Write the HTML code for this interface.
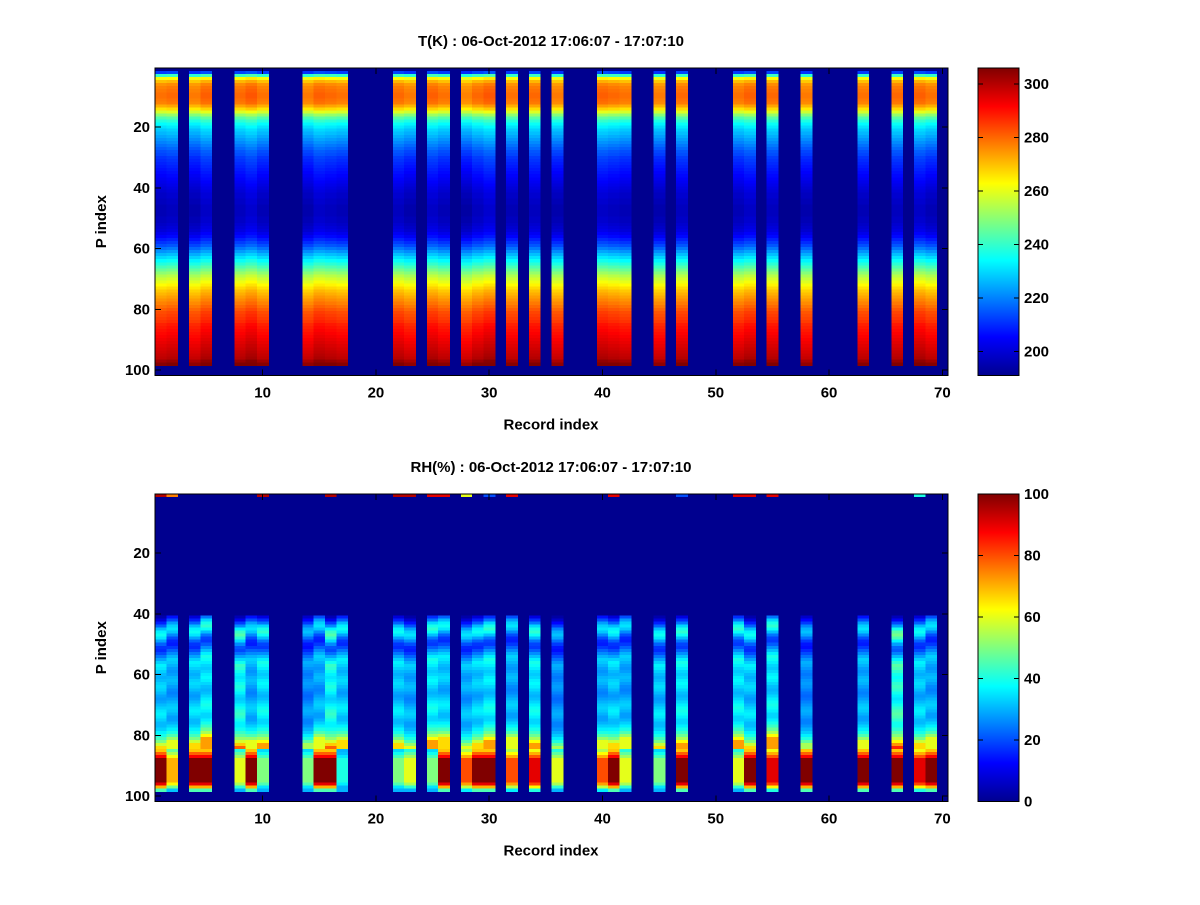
<!DOCTYPE html>
<html><head><meta charset="utf-8"><style>
body{margin:0;background:#fff}
svg text{font-family:"Liberation Sans",Arial,sans-serif;font-weight:bold;font-size:15px;fill:#000}
</style></head><body>
<svg id="fig" width="1200" height="900" viewBox="0 0 1200 900" shape-rendering="crispEdges">
<rect width="1200" height="900" fill="#fff"/>
<defs>
<linearGradient id="jetg" x1="0" y1="1" x2="0" y2="0">
<stop offset="0" stop-color="#00008f"/><stop offset="0.125" stop-color="#0000ff"/><stop offset="0.375" stop-color="#00ffff"/><stop offset="0.625" stop-color="#ffff00"/><stop offset="0.875" stop-color="#ff0000"/><stop offset="1" stop-color="#800000"/>
</linearGradient>
</defs>
<g id="p1"></g>
<g id="p2"></g>
</svg>
<script>
const records=[1,2,4,5,8,9,10,14,15,16,17,22,23,25,26,28,29,30,32,34,36,40,41,42,45,47,52,53,55,58,63,66,68,69];
const tOffset=[0,1,-1,2,1,3,0,-1,2,1,0,1,-1,2,0,-2,1,3,0,1,-1,2,1,0,-1,1,0,2,1,-1,0,1,2,0];
const tProfile=[null,212,240,262,270,275,277,278,279,279,278,277,272,266,258,250,243,238,234,231,
228,226,224,222,220,218,216,214,213,211,210,209,208,207,206,205,204,203,202,201,
200,199,199,198,198,197,197,197,197,198,198,199,200,201,203,205,208,211,214,218,
222,226,230,234,238,242,246,250,254,257,260,263,266,269,271,273,275,277,279,281,
283,284,285,286,288,289,290,291,292,293,294,295,296,297,298,299,302,305,null,null,null];
const rhTop=[95,75,0,0,0,0,95,0,0,95,0,95,95,90,90,60,0,20,90,0,0,0,90,0,0,20,90,90,90,0,0,0,40,0];
const rhMid=[4,8,14,20,28,33,35,32,26,20,16,15,18,22,26,30,33,32,30,28,27,28,30,31,30,28,26,25,26,28,30,32,33,32,30,28,28,30,33,36,40,45,52,60];
const rhBottom=[68,78,88,100,100,100,100,100,100,100,100,90,70,45];
const recMid=[1.1,1.0,1.1,1.2,1.3,1.0,1.2,0.9,1.0,1.3,1.1,1.1,1.0,1.2,1.1,1.0,1.1,1.2,1.0,1.2,0.9,1.0,1.1,1.0,1.1,1.2,1.2,1.1,1.2,0.9,1.0,1.4,1.1,1.0];
const recShift=[0,2,1,3,0,2,1,1,3,0,2,1,0,2,3,0,1,2,3,1,0,2,1,3,0,1,2,0,3,1,2,0,1,3];
const recBottom=[1.0,0.7,1.0,1.0,0.6,1.0,0.5,0.5,1.0,1.0,0.4,0.5,0.6,0.5,1.0,0.8,1.0,1.0,0.8,0.9,0.6,0.8,1.0,0.6,0.5,1.0,0.6,1.0,0.9,1.0,1.0,1.0,0.9,1.0];
const xTicks=[10,20,30,40,50,60,70];
const yTicks=[20,40,60,80,100];
const tBarTicks=[200,220,240,260,280,300];
const rhBarTicks=[0,20,40,60,80,100];

const NS="http://www.w3.org/2000/svg";
function jet(t){t=Math.max(0,Math.min(1,t));const c=v=>Math.round(255*Math.max(0,Math.min(1,v)));
return `rgb(${c(1.5-Math.abs(4*t-3))},${c(1.5-Math.abs(4*t-2))},${c(Math.max(0.5625,1.5-Math.abs(4*t-1))*(t<0.375?1:1)-(t>=0.375?Math.max(0,0.5625-(1.5-Math.abs(4*t-1))):0))})`;}
function mk(tag,attrs,parent){const e=document.createElementNS(NS,tag);for(const k in attrs)e.setAttribute(k,attrs[k]);parent.appendChild(e);return e;}

function panel(g,top,title,vmin,vmax,valueFn,barTicks){
  const L=155,R=948,B=top+307.5,T=top;
  const X=v=>L+(v-0.5)*(R-L)/70;
  const Y=v=>T+(v-0.5)*(B-T)/101.3;
  const bg=mk('rect',{x:L,y:T,width:R-L,height:B-T,fill:'#00008f'},g);
  
  
  records.forEach((r,i)=>{
    for(let p=1;p<=101;p++){
      const v=valueFn(i,p);
      if(v==null)continue;
      const c=mk('rect',{x:X(r-0.5),y:Y(p-0.5),width:X(r+0.5)-X(r-0.5)+0.5,height:Y(p+0.5)-Y(p-0.5)+0.5,fill:v<=vmin?'#00008f':jet((v-vmin)/(vmax-vmin))},g);
      
      
    }
  });
  mk('rect',{x:L,y:T,width:R-L,height:B-T,fill:'none',stroke:'#000','stroke-width':1},g);
  xTicks.forEach(v=>{
    mk('line',{x1:X(v),x2:X(v),y1:B,y2:B-6,stroke:'#000'},g);
    mk('line',{x1:X(v),x2:X(v),y1:T,y2:T+6,stroke:'#000'},g);
    const t=mk('text',{x:X(v),y:B+22,'text-anchor':'middle'},g);t.textContent=v;
    
    
  });
  yTicks.forEach(v=>{
    mk('line',{x1:L,x2:L+6,y1:Y(v),y2:Y(v),stroke:'#000'},g);
    mk('line',{x1:R,x2:R-6,y1:Y(v),y2:Y(v),stroke:'#000'},g);
    const t=mk('text',{x:L-5,y:Y(v)+5,'text-anchor':'end'},g);t.textContent=v;
    
    
  });
  const tt=mk('text',{x:551,y:T-22,'text-anchor':'middle','font-size':'15'},g);tt.textContent=title;
  
  
  const xl=mk('text',{x:551,y:B+54,'text-anchor':'middle','font-size':'17'},g);xl.textContent='Record index';
  
  
  const yl=mk('text',{x:0,y:0,'text-anchor':'middle','font-size':'17',transform:`translate(106,${(T+B)/2}) rotate(-90)`},g);yl.textContent='P index';
  
  
  const cb=mk('rect',{x:978,y:T,width:41,height:B-T,fill:'url(#jetg)',stroke:'#000'},g);
  
  
  barTicks.forEach(v=>{
    const y=B-(v-vmin)/(vmax-vmin)*(B-T);
    mk('line',{x1:978,x2:983,y1:y,y2:y,stroke:'#000'},g);
    mk('line',{x1:1019,x2:1014,y1:y,y2:y,stroke:'#000'},g);
    const t=mk('text',{x:1024,y:y+5},g);t.textContent=v;
    
    
  });
}
panel(document.getElementById('p1'),68,'T(K) : 06-Oct-2012 17:06:07 - 17:07:10',191,306,
  (i,p)=>{const v=tProfile[p-1];return v==null?null:v+tOffset[i];},tBarTicks);
panel(document.getElementById('p2'),494,'RH(%) : 06-Oct-2012 17:06:07 - 17:07:10',0,100,
  (i,p)=>{
    if(p===1)return rhTop[i];
    if(p<=40)return 0;
    if(p<=84){const k=Math.min(43,Math.max(0,p-41+recShift[i]));return Math.min(100,rhMid[k]*recMid[i]);}
    if(p<=98){const b=rhBottom[p-85];return Math.max(30,b*recBottom[i]);}
    return null;
  },rhBarTicks);
</script>
</body></html>
